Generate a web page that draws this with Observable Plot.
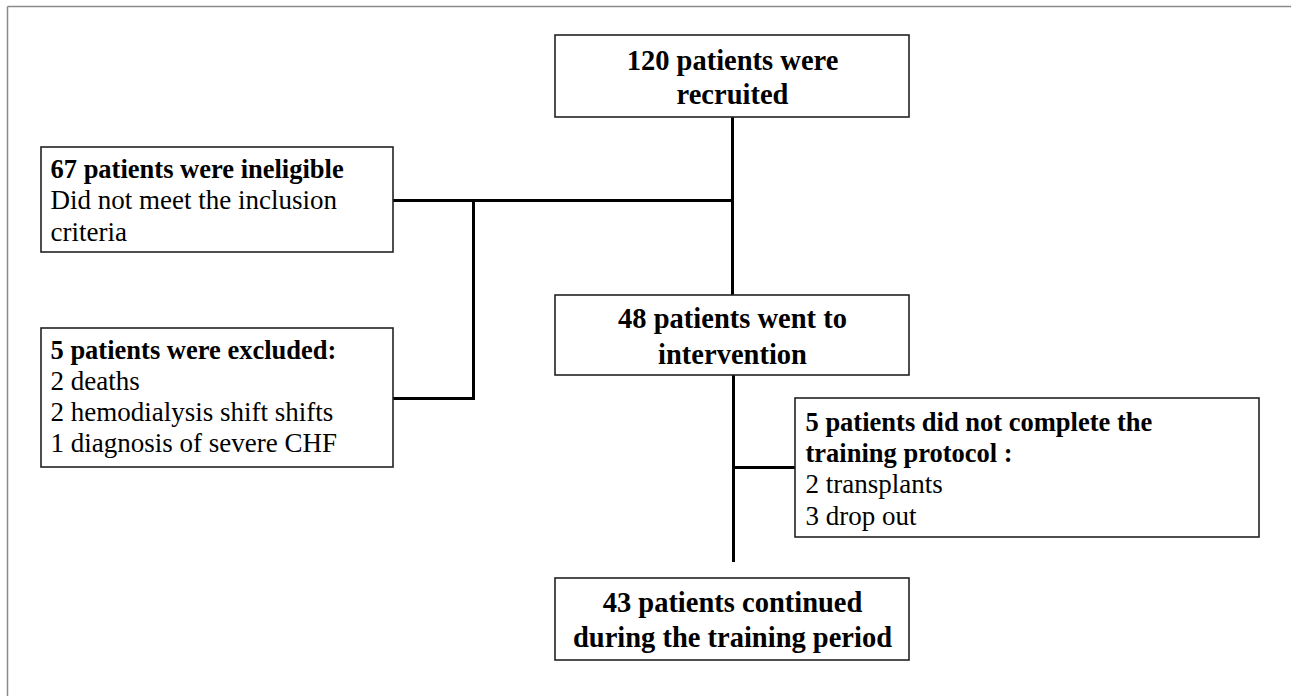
<!DOCTYPE html>
<html>
<head>
<meta charset="utf-8">
<script src="https://cdn.jsdelivr.net/npm/d3@7"></script>
<script src="https://cdn.jsdelivr.net/npm/@observablehq/plot@0.6"></script>
<style>
  html, body { margin: 0; padding: 0; background: #fff; }
  #chart svg { display: block; }
</style>
</head>
<body>
<div id="chart"></div>
<script>
// Flowchart content
const boxIds = ["recruited", "ineligible", "excluded", "intervention", "incomplete", "continued"];
const boxX1 = [555, 41, 41, 555, 795, 555];
const boxX2 = [909, 393, 393, 909, 1259, 909];
const boxY1 = [35, 147, 328, 295, 398, 578];
const boxY2 = [117, 252, 467, 375, 537, 660];

// Text lines: box, text, bold?
const lineBox = ["recruited","recruited","intervention","intervention","continued","continued",
  "ineligible","ineligible","ineligible",
  "excluded","excluded","excluded","excluded",
  "incomplete","incomplete","incomplete","incomplete"];
const lineText = ["120 patients were","recruited","48 patients went to","intervention",
  "43 patients continued","during the training period",
  "67 patients were ineligible","Did not meet the inclusion","criteria",
  "5 patients were excluded:","2 deaths","2 hemodialysis shift shifts","1 diagnosis of severe CHF",
  "5 patients did not complete the","training protocol :","2 transplants","3 drop out"];
const lineBold = [true,true,true,true,true,true,
  true,false,false,
  true,false,false,false,
  true,true,false,false];
const lineY = [60,94,318,354,602,637,
  169,200,232,
  350,381,412,443,
  422,453,484,516];

// Connectors
const linkX1 = [732, 393, 473, 393, 733, 733];
const linkY1 = [117, 200, 200, 398, 375, 467];
const linkX2 = [732, 732, 473, 473, 733, 795];
const linkY2 = [295, 200, 398, 398, 560, 467];

// Page frame
const frameX1 = [7, 7];
const frameY1 = [6, 6];
const frameX2 = [1291, 7];
const frameY2 = [6, 696];

const boxes = boxIds.map((id, i) => ({id, x1: boxX1[i], x2: boxX2[i], y1: boxY1[i], y2: boxY2[i]}));
const centered = new Set(["recruited", "intervention", "continued"]);
const textX = {recruited: 732, intervention: 732, continued: 732, ineligible: 50, excluded: 50, incomplete: 805};
const lines = lineText.map((t, i) => ({box: lineBox[i], text: t, bold: lineBold[i], y: lineY[i], x: textX[lineBox[i]]}));
const links = linkX1.map((x1, i) => ({x1, y1: linkY1[i], x2: linkX2[i], y2: linkY2[i]}));
const frame = frameX1.map((x1, i) => ({x1, y1: frameY1[i], x2: frameX2[i], y2: frameY2[i]}));

const font = "'Liberation Serif', 'Times New Roman', serif";

const chart = Plot.plot({
  width: 1291,
  height: 696,
  margin: 0,
  x: {domain: [0, 1291], range: [0, 1291], axis: null},
  y: {domain: [0, 696], range: [0, 696], axis: null},
  marks: [
    Plot.link(frame, {x1: "x1", y1: "y1", x2: "x2", y2: "y2", stroke: "#8a8a8a", strokeWidth: 1.5}),
    Plot.link(links, {x1: "x1", y1: "y1", x2: "x2", y2: "y2", stroke: "#000", strokeWidth: 3, strokeLinecap: "square"}),
    Plot.rect(boxes, {x1: "x1", x2: "x2", y1: "y1", y2: "y2", fill: "#fff", stroke: "#222", strokeWidth: 1.6}),
    Plot.text(lines.filter(d => centered.has(d.box)), {
      x: "x", y: "y", text: "text", textAnchor: "middle",
      fontFamily: font, fontWeight: "bold", fontSize: 28.5, fill: "#000"
    }),
    Plot.text(lines.filter(d => !centered.has(d.box) && d.bold), {
      x: "x", y: "y", text: "text", textAnchor: "start",
      fontFamily: font, fontWeight: "bold", fontSize: 26.5, fill: "#000"
    }),
    Plot.text(lines.filter(d => !centered.has(d.box) && !d.bold), {
      x: "x", y: "y", text: "text", textAnchor: "start",
      fontFamily: font, fontWeight: "normal", fontSize: 27, fill: "#000"
    })
  ]
});
document.getElementById("chart").appendChild(chart);
</script>
</body>
</html>
